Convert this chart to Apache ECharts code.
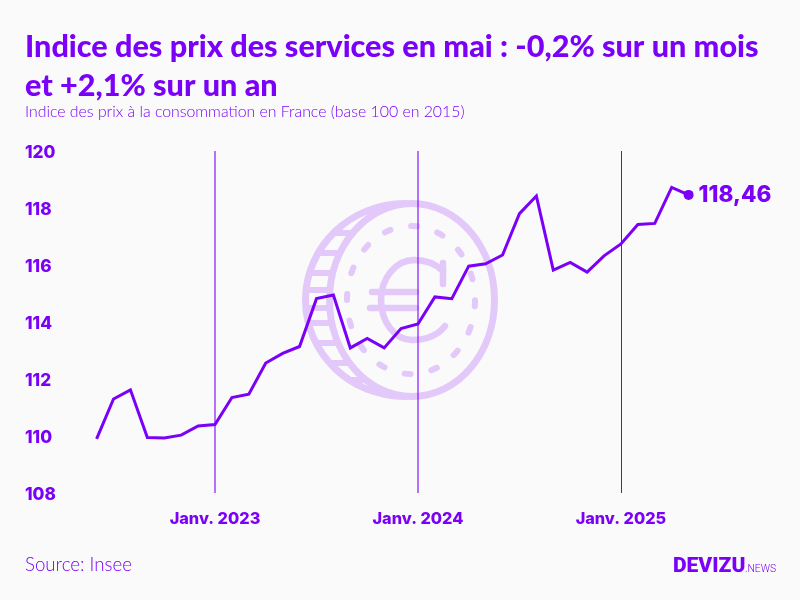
<!DOCTYPE html>
<html><head><meta charset="utf-8">
<script src="https://cdn.jsdelivr.net/npm/echarts@6/dist/echarts.min.js"></script>
<style>html,body{margin:0;padding:0;background:#fafafa}#c{width:800px;height:600px}</style>
</head><body><div id="c"></div>
<script>
const months = ["2022-06","2022-07","2022-08","2022-09","2022-10","2022-11","2022-12",
"2023-01","2023-02","2023-03","2023-04","2023-05","2023-06","2023-07","2023-08","2023-09","2023-10","2023-11","2023-12",
"2024-01","2024-02","2024-03","2024-04","2024-05","2024-06","2024-07","2024-08","2024-09","2024-10","2024-11","2024-12",
"2025-01","2025-02","2025-03","2025-04","2025-05"];
const values = [109.9,111.3,111.62,109.95,109.93,110.03,110.35,
110.4,111.35,111.47,112.56,112.9,113.14,114.82,114.95,113.09,113.42,113.09,113.77,
113.93,114.88,114.82,115.96,116.04,116.35,117.8,118.42,115.82,116.09,115.75,116.32,
116.74,117.42,117.46,118.72,118.46];
const yearTicks = {"2023-01":"Janv. 2023","2024-01":"Janv. 2024","2025-01":"Janv. 2025"};
const titleText = "Indice des prix des services en mai : -0,2% sur un mois\net +2,1% sur un an";
const subtitleText = "Indice des prix à la consommation en France (base 100 en 2015)";
const sourceText = "Source: Insee";
const lastLabel = "118,46";

const P = "#7b00f7", COIN = "#e2c9f9", F = "Lato, sans-serif", FL = "Inter, sans-serif";
const ribYs = [212,233,253,273,290,308,323,343,363,380];
const onEllipse = (cx,rx,ry,y) => cx - rx*Math.sqrt(Math.max(0,1-((y-300)/ry)**2));
const coinLine = {stroke:COIN, fill:null, lineWidth:7, lineCap:"round"};
const euroLine = {stroke:COIN, fill:null, lineWidth:6.5, lineCap:"round"};
const ribs = ribYs.map(y => ({type:"line", silent:true, z:0,
  shape:{x1:onEllipse(405,99.5,96.5,y), y1:y, x2:onEllipse(412,82.5,96.5,y), y2:y},
  style:{stroke:COIN, lineWidth:6}}));
const curve = (x1,y1,cpx1,cpy1,cpx2,cpy2,x2,y2,style) => ({type:"bezierCurve", silent:true, z:0,
  shape:{x1,y1,cpx1,cpy1,cpx2,cpy2,x2,y2}, style});
const coin = [
  {type:"ellipse", silent:true, z:0, shape:{cx:412,cy:300,rx:82.5,ry:96.5}, style:coinLine},
  curve(405,203.5, 350,203.5, 305.5,247, 305.5,300, coinLine),
  curve(305.5,300, 305.5,353, 350,396.5, 405,396.5, coinLine),
  ...ribs,
  {type:"ellipse", silent:true, z:0, shape:{cx:411,cy:300,rx:64,ry:74},
    style:{stroke:COIN, fill:null, lineWidth:6, lineCap:"round", lineDash:[6,21.13]}},
  curve(381,300, 381,278, 396,260, 414,260, euroLine),
  curve(414,260, 425,260, 436,264, 443,271, euroLine),
  curve(381,300, 381,322, 395,340, 412,340, euroLine),
  curve(412,340, 426,340, 438,335, 445,326, euroLine),
  {type:"line", silent:true, z:0, shape:{x1:443,y1:263,x2:443,y2:284}, style:euroLine},
  {type:"line", silent:true, z:0, shape:{x1:372,y1:292,x2:416,y2:292}, style:euroLine},
  {type:"line", silent:true, z:0, shape:{x1:370,y1:308,x2:416,y2:308}, style:euroLine}
];
const logo = [
  {type:"text", z:5, x:673, y:556, style:{text:"DEVIZU", fill:P, font:"900 21px Roboto, sans-serif"}},
  {type:"text", z:5, x:745, y:564, style:{text:".NEWS", fill:P, font:"300 10.4px Roboto, sans-serif"}}
];

const n = months.length;
const seriesData = values.map((v,i) => i === n-1
  ? {value:v, symbol:"circle", symbolSize:10,
     label:{show:true, position:"right", distance:5, formatter:lastLabel, color:P, fontFamily:FL, fontWeight:800, fontSize:22.5}}
  : {value:v, symbol:"none"});
const yearKeys = Object.keys(yearTicks);
const chart = echarts.init(document.getElementById("c"));
chart.setOption({
  animation:false,
  backgroundColor:"#fafafa",
  title:[
    {text:titleText, left:25, top:28, padding:0, textStyle:{color:P, fontFamily:F, fontWeight:900, fontSize:30.6, lineHeight:38.5}},
    {text:subtitleText, left:25, top:104, padding:0, textStyle:{color:P, fontFamily:F, fontWeight:300, fontSize:15.85}},
    {text:sourceText, left:25, top:555, padding:0, textStyle:{color:P, fontFamily:F, fontWeight:300, fontSize:18.7}}
  ],
  graphic:{elements:[...coin,...logo]},
  grid:{left:96.6,right:111.4,top:151,bottom:107,containLabel:false},
  xAxis:{type:"category", data:months, boundaryGap:false,
    axisLine:{show:false}, axisTick:{show:false}, splitLine:{show:false},
    axisLabel:{interval:(i,v)=>v in yearTicks, formatter:v=>yearTicks[v]||"", color:P, fontFamily:FL, fontWeight:800, fontSize:16.3, margin:18}},
  yAxis:{type:"value", min:108, max:120, interval:2,
    axisLine:{show:false}, axisTick:{show:false}, splitLine:{show:false},
    axisLabel:{align:"left", verticalAlign:"top", margin:71.6, color:P, fontFamily:FL, fontWeight:800, fontSize:17.2, padding:[-7,0,0,0]}},
  series:[{type:"line", data:seriesData, z:3, showSymbol:true,
    lineStyle:{color:P,width:3,join:"miter"}, itemStyle:{color:P},
    markLine:{silent:true, symbol:"none", label:{show:false}, z:1,
      data:yearKeys.map((k,i)=>({xAxis:k, lineStyle:{color:P, type:"solid", width:i<2?2:1, opacity:i<2?0.55:1}}))}}]
});
</script></body></html>
